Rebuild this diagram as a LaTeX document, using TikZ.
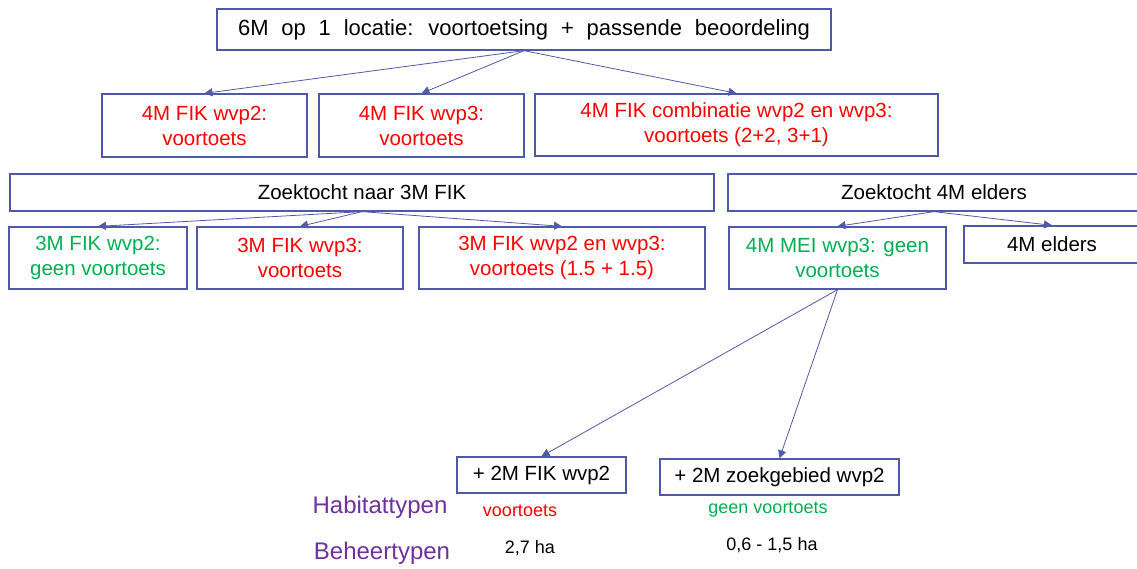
\documentclass[tikz,border=0pt]{standalone}
\usepackage{fontspec}
\setmainfont{Liberation Sans}
\newfontfamily\widesp[WordSpace=2.1]{Liberation Sans}
\usetikzlibrary{arrows.meta}
\definecolor{edge}{RGB}{78,90,166}
\definecolor{tred}{RGB}{255,0,0}
\definecolor{tgreen}{RGB}{0,176,80}
\definecolor{tpurple}{RGB}{112,48,160}

\begin{document}
\begin{tikzpicture}[x=1pt,y=-1pt,
  box/.style={draw=edge,line width=1.3pt,fill=white,inner sep=0pt,align=center,
    font=\fontsize{20.5}{25}\selectfont},
  link/.style={draw=edge,line width=0.8pt,-{Triangle[length=8pt,width=8pt]}},
  note/.style={inner sep=0pt,font=\fontsize{18}{22}\selectfont},
  legend/.style={inner sep=0pt,text=tpurple,font=\fontsize{24}{28}\selectfont}]
\useasboundingbox (0,0) rectangle (1137,568);

% level 1
\node[box,minimum width=614,minimum height=41,font=\widesp\fontsize{22}{26}\selectfont]
  (top) at (524,29.5) {6M op 1 locatie: voortoetsing + passende beoordeling};

% level 2
\node[box,minimum width=205,minimum height=63,text=tred] (a) at (204.5,125.5) {4M FIK wvp2:\\voortoets};
\node[box,minimum width=205,minimum height=63,text=tred] (b) at (421.5,125.5) {4M FIK wvp3:\\voortoets};
\node[box,minimum width=403,minimum height=62,text=tred] (c) at (736.5,125) {4M FIK combinatie wvp2 en wvp3:\\voortoets (2+2, 3+1)};

% level 3: search boxes
\node[box,minimum width=704,minimum height=37] (z3) at (362,192.5) {Zoektocht naar 3M FIK};
\node[box,minimum width=412,minimum height=37] (z4) at (934,192.5) {Zoektocht 4M elders};

% level 4
\node[box,minimum width=178,minimum height=62,text=tgreen] (d) at (98,258) {3M FIK wvp2:\\geen voortoets};
\node[box,minimum width=206,minimum height=62,text=tred] (e) at (300,258) {3M FIK wvp3:\\voortoets};
\node[box,minimum width=286,minimum height=62,text=tred] (f) at (562,258) {3M FIK wvp2 en wvp3:\\voortoets (1.5 + 1.5)};
\node[box,minimum width=217,minimum height=62,text=tgreen] (g) at (837.5,258) {4M MEI wvp3: geen\\voortoets};
\node[box,minimum width=176,minimum height=37] (h) at (1052,244.5) {4M elders};

% level 5
\node[box,minimum width=169,minimum height=36] (i) at (541.5,475) {+ 2M FIK wvp2};
\node[box,minimum width=239,minimum height=36] (j) at (779.5,477) {+ 2M zoekgebied wvp2};

% annotations
\node[legend] (hab) at (380,507) {Habitattypen};
\node[legend] (beh) at (382,553) {Beheertypen};
\node[note,text=tred] (ivt) at (520,511) {voortoets};
\node[note,text=tgreen] (jvt) at (768,510) {geen voortoets};
\node[note] (iha) at (530,548) {2,7 ha};
\node[note] (jha) at (772,545) {0,6 - 1,5 ha};

% connectors
\draw[link] (top.south) -- (a.north);
\draw[link] (top.south) -- (b.north);
\draw[link] (top.south) -- (c.north);
\draw[link] (z3.south) -- (d.north);
\draw[link] (z3.south) -- (e.north);
\draw[link] (z3.south) -- (f.north);
\draw[link] (z4.south) -- (g.north);
\draw[link] (z4.south) -- (h.north);
\draw[link] (g.south) -- (i.north);
\draw[link] (g.south) -- (j.north);
\end{tikzpicture}
\end{document}
